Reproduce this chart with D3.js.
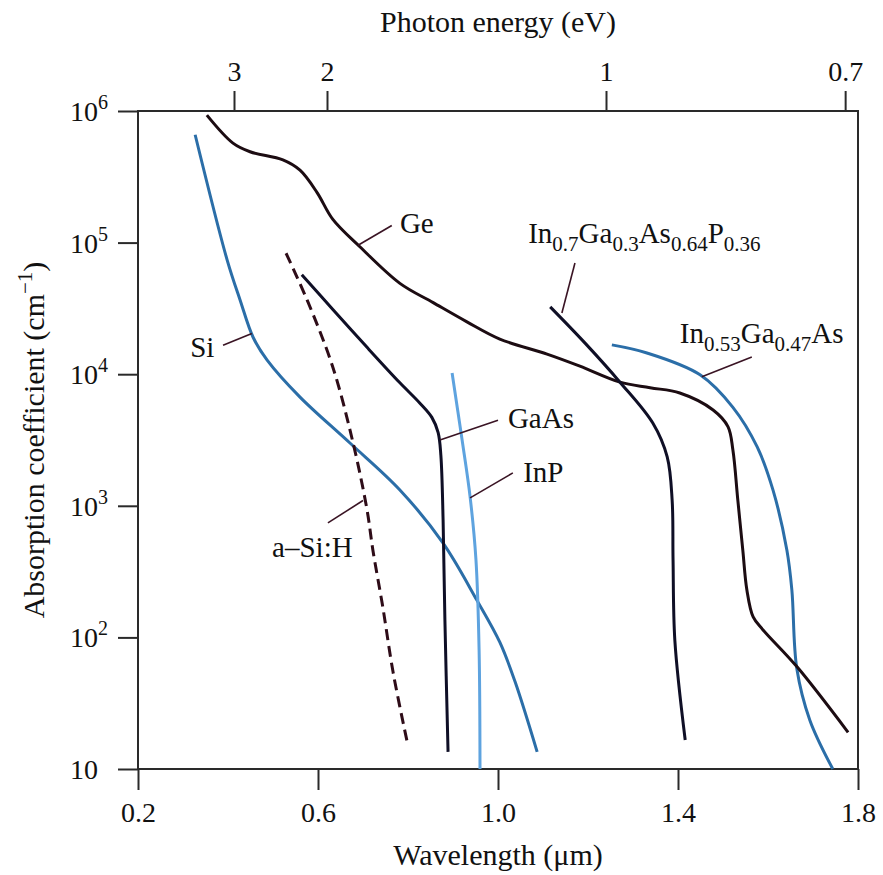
<html>

<head>
    <meta charset="utf-8">
    <title>Absorption coefficient vs wavelength</title>
    <style>
        body { margin: 0; background: #fff; }
        text { font-family: "Liberation Serif", "Times New Roman", serif; fill: #111; }
    </style>
</head>

<body>
    <script src="https://cdn.jsdelivr.net/npm/d3@7/dist/d3.min.js"></script>
    <script>
        // wavelength in µm, absorption coefficient in cm^-1
        var geLambda = [0.353, 0.411, 0.449, 0.522, 0.560, 0.598, 0.633, 0.693, 0.782, 0.856, 0.931, 1.004, 1.109, 1.182, 1.271, 1.338, 1.404, 1.478, 1.511, 1.522, 1.533, 1.544, 1.553, 1.567, 1.589, 1.664, 1.778];
        var geAlpha = [9.3e5, 5.7e5, 4.9e5, 4.25e5, 3.55e5, 2.4e5, 1.5e5, 9.3e4, 4.9e4, 3.5e4, 2.5e4, 1.85e4, 1.42e4, 1.15e4, 8.7e3, 7.9e3, 7.2e3, 5.35e3, 4.0e3, 2.65e3, 1.1e3, 460, 230, 143, 114, 60, 19];

        var siLambda = [0.327, 0.398, 0.427, 0.456, 0.487, 0.560, 0.671, 0.782, 0.878, 0.953, 1.004, 1.038, 1.087];
        var siAlpha = [6.6e5, 7.4e4, 3.65e4, 1.9e4, 1.28e4, 6.7e3, 3.0e3, 1.32e3, 520, 192, 92, 46, 13.5];

        var asiLambda = [0.529, 0.576, 0.633, 0.678, 0.709, 0.722, 0.744, 0.767, 0.800];
        var asiAlpha = [8.3e4, 3.65e4, 1.13e4, 3.0e3, 930, 460, 170, 54, 15];

        var gaasLambda = [0.564, 0.633, 0.709, 0.782, 0.827, 0.853, 0.867, 0.873, 0.878, 0.882, 0.889];
        var gaasAlpha = [5.7e4, 3.1e4, 1.6e4, 8.6e3, 6.0e3, 4.7e3, 3.6e3, 2.43e3, 780, 136, 13.5];

        var inpLambda = [0.898, 0.920, 0.938, 0.951, 0.958, 0.960];
        var inpAlpha = [1.02e4, 3.2e3, 1.17e3, 390, 80, 10];

        var ingaaspLambda = [1.116, 1.193, 1.271, 1.344, 1.376, 1.387, 1.389, 1.393, 1.416];
        var ingaaspAlpha = [3.25e4, 1.73e4, 8.7e3, 4.25e3, 2.35e3, 1.1e3, 390, 95, 16.6];

        var ingaasLambda = [1.253, 1.331, 1.449, 1.522, 1.576, 1.611, 1.642, 1.653, 1.664, 1.693, 1.744];
        var ingaasAlpha = [1.67e4, 1.45e4, 9.9e3, 5.6e3, 2.8e3, 1.32e3, 460, 230, 58, 23.5, 10];

        var wavelengthTicks = [0.2, 0.6, 1.0, 1.4, 1.8];
        var wavelengthTickLabels = ["0.2", "0.6", "1.0", "1.4", "1.8"];
        var energyTicks = [3, 2, 1, 0.7];
        var energyTickLabels = ["3", "2", "1", "0.7"];
        var alphaTicks = [10, 1e2, 1e3, 1e4, 1e5, 1e6];
        var alphaTickExponents = ["", "2", "3", "4", "5", "6"];

        // label anchor and leader line ends: [wavelength, log10(alpha)]
        var labelNames = ["Ge", "InGaAsP", "InGaAs", "Si", "a–Si:H", "GaAs", "InP"];
        var labelAt = [[0.782, 5.07], [1.067, 5.0], [1.404, 4.24], [0.316, 4.13], [0.498, 2.61], [1.022, 3.59], [1.056, 3.18]];
        var leaderFrom = [[0.689, 4.98], [1.142, 4.465], [1.453, 3.98], [0.389, 4.22], [0.622, 2.87], [0.871, 3.5], [0.938, 3.06]];
        var leaderTo = [[0.764, 5.13], [1.171, 4.845], [1.564, 4.13], [0.453, 4.31], [0.700, 3.04], [1.0, 3.65], [1.033, 3.25]];

        var width = 883, height = 875;
        var plotLeft = 138, plotRight = 858, plotTop = 111, plotBottom = 769;

        var svg = d3.select("body")
            .append("svg")
            .attr("width", width)
            .attr("height", height);

        var x = d3.scaleLinear().domain([0.2, 1.8]).range([plotLeft, plotRight]);
        var y = d3.scaleLog().domain([10, 1e6]).range([plotBottom, plotTop]);

        var axisColor = "#2a2a2a";

        // frame
        svg.append("rect")
            .attr("x", plotLeft).attr("y", plotTop)
            .attr("width", plotRight - plotLeft).attr("height", plotBottom - plotTop)
            .attr("fill", "none").attr("stroke", axisColor).attr("stroke-width", 2);

        // bottom axis
        var xAxis = svg.append("g")
            .attr("transform", "translate(0," + plotBottom + ")")
            .call(d3.axisBottom(x).tickValues(wavelengthTicks)
                .tickFormat(function (d, i) { return wavelengthTickLabels[i]; })
                .tickSize(21).tickPadding(12));
        // top axis: photon energy = 1.24 / wavelength
        var xTop = svg.append("g")
            .attr("transform", "translate(0," + plotTop + ")")
            .call(d3.axisTop(x).tickValues(energyTicks.map(function (e) { return 1.24 / e; }))
                .tickFormat(function (d, i) { return energyTickLabels[i]; })
                .tickSize(20).tickPadding(10));
        // left axis
        var yAxis = svg.append("g")
            .attr("transform", "translate(" + plotLeft + ",0)")
            .call(d3.axisLeft(y).tickValues(alphaTicks).tickFormat("").tickSize(20));

        [xAxis, xTop, yAxis].forEach(function (g) {
            g.select(".domain").remove();
            g.selectAll(".tick line").attr("stroke", axisColor).attr("stroke-width", 2);
            g.selectAll(".tick text")
                .attr("font-family", "Liberation Serif, Times New Roman, serif")
                .attr("font-size", 28).attr("fill", "#111");
        });

        // y tick labels with exponents
        var yLab = svg.selectAll(".ylab")
            .data(alphaTicks)
            .enter()
            .append("text")
            .attr("class", "ylab")
            .attr("x", 70)
            .attr("y", function (d) { return y(d) + 10; })
            .attr("font-size", 28);
        yLab.append("tspan").text("10");
        yLab.append("tspan")
            .attr("font-size", 20)
            .attr("dy", -12)
            .text(function (d, i) { return alphaTickExponents[i]; });

        // axis titles
        svg.append("text")
            .attr("x", (plotLeft + plotRight) / 2).attr("y", 32)
            .attr("text-anchor", "middle").attr("font-size", 30)
            .text("Photon energy (eV)");
        svg.append("text")
            .attr("x", (plotLeft + plotRight) / 2).attr("y", 865)
            .attr("text-anchor", "middle").attr("font-size", 30)
            .text("Wavelength (μm)");
        var yTitle = svg.append("text")
            .attr("transform", "translate(44," + ((plotTop + plotBottom) / 2) + ") rotate(-90)")
            .attr("text-anchor", "middle").attr("font-size", 30);
        yTitle.append("tspan").text("Absorption coefficient (cm");
        yTitle.append("tspan").attr("font-size", 21).attr("dy", -12).text("−1");
        yTitle.append("tspan").attr("dy", 12).text(")");

        // curves
        var line = d3.line()
            .x(function (d) { return x(d[0]); })
            .y(function (d) { return y(d[1]); })
            .curve(d3.curveCatmullRom.alpha(0.5));

        var series = [
            { lam: siLambda, a: siAlpha, color: "#2b6ea8", dash: null },
            { lam: ingaasLambda, a: ingaasAlpha, color: "#2b6ea8", dash: null },
            { lam: inpLambda, a: inpAlpha, color: "#5ea3df", dash: null },
            { lam: geLambda, a: geAlpha, color: "#1c0c12", dash: null },
            { lam: gaasLambda, a: gaasAlpha, color: "#0f0f26", dash: null },
            { lam: ingaaspLambda, a: ingaaspAlpha, color: "#0f0f26", dash: null },
            { lam: asiLambda, a: asiAlpha, color: "#2e0c18", dash: "11,6" }
        ];

        svg.selectAll(".curve")
            .data(series)
            .enter()
            .append("path")
            .attr("class", "curve")
            .attr("fill", "none")
            .attr("stroke", function (d) { return d.color; })
            .attr("stroke-width", 3)
            .attr("stroke-dasharray", function (d) { return d.dash; })
            .attr("d", function (d) {
                return line(d.lam.map(function (l, i) { return [l, d.a[i]]; }));
            });

        // leader lines
        svg.selectAll(".leader")
            .data(labelNames)
            .enter()
            .append("line")
            .attr("class", "leader")
            .attr("x1", function (d, i) { return x(leaderFrom[i][0]); })
            .attr("y1", function (d, i) { return y(Math.pow(10, leaderFrom[i][1])); })
            .attr("x2", function (d, i) { return x(leaderTo[i][0]); })
            .attr("y2", function (d, i) { return y(Math.pow(10, leaderTo[i][1])); })
            .attr("stroke", "#3a1424")
            .attr("stroke-width", 1.6);

        // labels, with subscripts for the alloys
        var labelParts = {
            "InGaAsP": [["In", ""], ["0.7", "sub"], ["Ga", ""], ["0.3", "sub"], ["As", ""], ["0.64", "sub"], ["P", ""], ["0.36", "sub"]],
            "InGaAs": [["In", ""], ["0.53", "sub"], ["Ga", ""], ["0.47", "sub"], ["As", ""]]
        };
        labelNames.forEach(function (name, i) {
            var t = svg.append("text")
                .attr("x", x(labelAt[i][0]))
                .attr("y", y(Math.pow(10, labelAt[i][1])))
                .attr("font-size", 29);
            var parts = labelParts[name] || [[name, ""]];
            var shifted = false;
            parts.forEach(function (p) {
                var s = t.append("tspan").text(p[0]);
                if (p[1] === "sub" && !shifted) { s.attr("font-size", 21).attr("dy", 8); shifted = true; }
                else if (p[1] === "" && shifted) { s.attr("dy", -8); shifted = false; }
                else if (p[1] === "sub") { s.attr("font-size", 21); }
            });
        });
    </script>
</body>

</html>
